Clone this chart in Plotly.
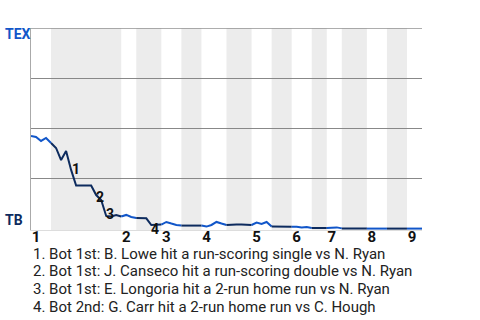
import plotly.graph_objects as go

# TEX win probability after each plate appearance (0 = TB wins, 1 = TEX wins)
wp = [0.463, 0.458, 0.438, 0.453, 0.428,
      0.403, 0.343, 0.388, 0.294, 0.216, 0.216, 0.216, 0.216, 0.169, 0.144,
      0.065, 0.062, 0.070, 0.062,
      0.070, 0.060, 0.055,
      0.055, 0.053, 0.020, 0.020, 0.022,
      0.035, 0.027, 0.020, 0.017,
      0.017, 0.017, 0.017, 0.017,
      0.012, 0.020, 0.035, 0.027, 0.020,
      0.022, 0.022, 0.022, 0.022, 0.020,
      0.032, 0.025, 0.035, 0.012,
      0.011, 0.011, 0.011, 0.011,
      0.011, 0.007, 0.010, 0.005,
      0.005, 0.005, 0.005,
      0.008, 0.008, 0.003,
      0.003, 0.003, 0.003, 0.003, 0.002,
      0.002, 0.002, 0.002, 0.002,
      0.002, 0.002, 0.002, 0.002,
      0.002, 0.002, 0.002]

# plate appearances per half inning (top 1st, bot 1st, top 2nd, ...)
half_pa = [4, 14, 3, 5, 4, 4, 5, 5, 4, 4, 4, 3, 3, 5, 4, 4, 3]
inning_labels = ["1", "2", "3", "4", "5", "6", "7", "8", "9"]

event_ids = ["1", "2", "3", "4"]
event_x = [8.9, 13.8, 15.8, 24.8]
event_y = [0.2985, 0.157, 0.077, 0.0]
event_text = [
    "1. Bot 1st: B. Lowe hit a run-scoring single vs N. Ryan",
    "2. Bot 1st: J. Canseco hit a run-scoring double vs N. Ryan",
    "3. Bot 1st: E. Longoria hit a 2-run home run vs N. Ryan",
    "4. Bot 2nd: G. Carr hit a 2-run home run vs C. Hough",
]

TOP_COLOR = "#1156c9"
BOT_COLOR = "#0d2b5e"
FONT = "Roboto"

# half-inning boundaries
bounds = [0]
for n in half_pa:
    bounds.append(bounds[-1] + n)

fig = go.Figure()
shapes = []
for h in range(len(half_pa)):
    s, e = bounds[h], bounds[h + 1]
    top = (h % 2 == 0)
    if not top:
        shapes.append(dict(type="rect", xref="x", yref="y", x0=s, x1=e,
                           y0=-0.005, y1=1.0, fillcolor="#ececec", line=dict(width=0),
                           layer="below"))
    fig.add_trace(go.Scatter(x=list(range(s, e + 1)), y=wp[s:e + 1], mode="lines",
                             line=dict(color=TOP_COLOR if top else BOT_COLOR, width=2),
                             hoverinfo="skip", showlegend=False))

# top border line (gridline at 100%)
shapes.append(dict(type="line", xref="x", yref="y", x0=0, x1=bounds[-1],
                   y0=0.999, y1=0.999, line=dict(color="#888888", width=1), layer="below"))

inning_starts = [bounds[i] for i in range(0, len(bounds) - 1, 2)]

W, H = 480, 320
ML, MR, MT, MB = 31, 58, 28, 90
PW, PH = W - ML - MR, H - MT - MB


def px_to_paper_x(px):
    return (px - ML) / PW


def py_to_paper_y(py):
    return (H - MB - py) / PH


annotations = []
for eid, ex, ey in zip(event_ids, event_x, event_y):
    annotations.append(dict(x=ex, y=ey, xref="x", yref="y", text=eid, showarrow=False,
                            font=dict(family=FONT, size=14, color="#111", weight="bold"),
                            xanchor="center", yanchor="middle"))

for i, t in enumerate(event_text):
    annotations.append(dict(x=px_to_paper_x(31), y=py_to_paper_y(253.5 + i * 17.8),
                            xref="paper", yref="paper",
                            text=t, showarrow=False,
                            font=dict(family=FONT, size=15, color="#222"),
                            xanchor="left", yanchor="middle"))

annotations.append(dict(x=px_to_paper_x(3), y=py_to_paper_y(34), xref="paper", yref="paper",
                        text="TEX", showarrow=False, xanchor="left", yanchor="middle",
                        font=dict(family=FONT, size=14, color="#1156c9", weight="bold")))
annotations.append(dict(x=px_to_paper_x(3), y=py_to_paper_y(220), xref="paper", yref="paper",
                        text="TB", showarrow=False, xanchor="left", yanchor="middle",
                        font=dict(family=FONT, size=14, color="#0d2b5e", weight="bold")))

fig.update_layout(
    width=W, height=H,
    margin=dict(l=ML, r=MR, t=MT, b=MB, pad=0),
    plot_bgcolor="white", paper_bgcolor="white",
    shapes=shapes, annotations=annotations,
    xaxis=dict(range=[0, bounds[-1]], tickvals=inning_starts, ticktext=inning_labels,
               showgrid=False, zeroline=False, ticks="", showline=True,
               linecolor="#dddddd", linewidth=1, ticklabelshift=5, ticklabelstandoff=-7,
               tickfont=dict(family=FONT, size=15, color="#111", weight="bold"),
               fixedrange=True),
    yaxis=dict(range=[-0.005, 1.0], tickvals=[0.25, 0.5, 0.75], showticklabels=False,
               showgrid=True, gridcolor="#888888", gridwidth=1, zeroline=False,
               showline=True, linecolor="#aaaaaa", linewidth=1, ticks="",
               fixedrange=True),
)

fig.write_html("out.html")
